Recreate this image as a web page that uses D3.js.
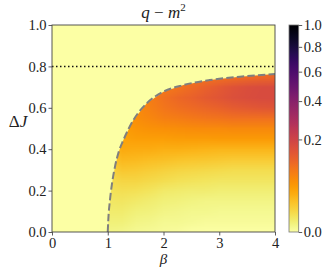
<!DOCTYPE html>
<html>
<head>
<meta charset="utf-8">
<script src="https://cdn.jsdelivr.net/npm/d3@7"></script>
<style>
  body { margin: 0; background: #fff; }
  svg text { font-family: "Liberation Serif", "Times New Roman", serif !important; fill: #222; }
</style>
</head>
<body>
<div id="chart"></div>
<script>
// grid of q - m^2 (rows: ΔJ, columns: β)
const betaCols = [1, 1.25, 1.5, 1.75, 2, 2.25, 2.5, 2.75, 3, 3.25, 3.5, 3.75, 4];
const dJRows = [0, 0.05, 0.1, 0.15, 0.2, 0.25, 0.3, 0.35, 0.4, 0.45, 0.5, 0.55, 0.6, 0.65, 0.7, 0.75, 0.8];
const qmValues = [
  [0.001, 0.0008, 0.0004, 0.0003, 0.0002, 0.0001, 0, 0, 0, 0, 0, 0, 0],
  [0.002, 0.002, 0.0012, 0.0008, 0.0005, 0.0004, 0.0003, 0.0002, 0.0002, 0.0002, 0.0002, 0.0002, 0.0002],
  [0.003, 0.003, 0.002, 0.0016, 0.0011, 0.0009, 0.0007, 0.0006, 0.0005, 0.0005, 0.0005, 0.0005, 0.0005],
  [0.004, 0.0045, 0.0035, 0.0028, 0.002, 0.0017, 0.0014, 0.0012, 0.0011, 0.001, 0.001, 0.001, 0.001],
  [0.006, 0.007, 0.0065, 0.005, 0.0038, 0.0033, 0.0029, 0.0026, 0.0023, 0.0022, 0.0022, 0.0022, 0.0022],
  [0.008, 0.011, 0.011, 0.009, 0.0075, 0.0065, 0.0058, 0.0052, 0.0048, 0.0046, 0.0045, 0.0045, 0.0045],
  [0.011, 0.017, 0.016, 0.014, 0.012, 0.011, 0.01, 0.0092, 0.0085, 0.008, 0.008, 0.008, 0.008],
  [0.015, 0.026, 0.025, 0.023, 0.021, 0.019, 0.018, 0.017, 0.016, 0.015, 0.015, 0.015, 0.015],
  [0.02, 0.036, 0.035, 0.034, 0.032, 0.031, 0.03, 0.029, 0.028, 0.028, 0.028, 0.028, 0.028],
  [0.024, 0.042, 0.045, 0.046, 0.046, 0.047, 0.047, 0.047, 0.048, 0.048, 0.048, 0.048, 0.048],
  [0.028, 0.046, 0.054, 0.058, 0.06, 0.062, 0.064, 0.065, 0.066, 0.067, 0.068, 0.068, 0.068],
  [0.032, 0.05, 0.062, 0.07, 0.077, 0.082, 0.087, 0.091, 0.095, 0.099, 0.1, 0.1, 0.1],
  [0.036, 0.054, 0.066, 0.078, 0.092, 0.102, 0.11, 0.118, 0.126, 0.135, 0.143, 0.148, 0.15],
  [0.04, 0.056, 0.066, 0.082, 0.1, 0.114, 0.126, 0.138, 0.15, 0.162, 0.17, 0.175, 0.176],
  [0.044, 0.056, 0.066, 0.082, 0.085, 0.095, 0.11, 0.125, 0.142, 0.156, 0.168, 0.174, 0.177],
  [0.044, 0.056, 0.066, 0.082, 0.085, 0.09, 0.092, 0.095, 0.098, 0.103, 0.108, 0.113, 0.118],
  [0.044, 0.056, 0.066, 0.082, 0.085, 0.09, 0.092, 0.095, 0.098, 0.1, 0.1, 0.1, 0.1],
];

// dashed boundary (β, ΔJ)
const boundaryBeta = [1.0, 1.01, 1.04, 1.08, 1.13, 1.2, 1.28, 1.46, 1.7, 2.0, 2.36, 2.83, 3.37, 4.0];
const boundaryDJ = [0, 0.06, 0.155, 0.24, 0.316, 0.39, 0.444, 0.541, 0.622, 0.678, 0.71, 0.734, 0.75, 0.763];
const dottedDJ = 0.8;

const xTicks = [0, 1, 2, 3, 4];
const yTicks = [0, 0.2, 0.4, 0.6, 0.8, 1.0];
const cbTicks = [0, 0.2, 0.4, 0.6, 0.8, 1.0];

const width = 327;
const height = 272;
const margin = {top: 25, right: 52, bottom: 40, left: 52};
const plotW = 275 - margin.left;
const plotH = 232 - margin.top;
const serif = '"Liberation Serif", "Times New Roman", serif';

const x = d3.scaleLinear().domain([0, 4]).range([margin.left, margin.left + plotW]);
const y = d3.scaleLinear().domain([0, 1]).range([margin.top + plotH, margin.top]);

// PowerNorm(gamma=0.5) with inferno_r
const norm = d3.scalePow().exponent(0.5).domain([0, 1]).range([0, 1]).clamp(true);
const color = v => d3.interpolateInferno(1 - norm(v));

const svg = d3.select('#chart').append('svg')
  .attr('width', width)
  .attr('height', height)
  .attr('font-family', serif);

const defs = svg.append('defs');

// background = zero value
svg.append('rect')
  .attr('x', x(0)).attr('y', y(1))
  .attr('width', plotW).attr('height', plotH)
  .attr('fill', color(0));

// heat map: one pixel per cell, smoothed when scaled up
const canvas = document.createElement('canvas');
canvas.width = betaCols.length;
canvas.height = dJRows.length;
const ctx = canvas.getContext('2d');
qmValues.forEach((row, j) => {
  row.forEach((v, i) => {
    ctx.fillStyle = color(v);
    ctx.fillRect(i, dJRows.length - 1 - j, 1, 1);
  });
});

const boundaryPts = boundaryBeta.map((b, i) => [b, boundaryDJ[i]]);
const clipPts = boundaryPts.concat([[4, 0]]);
defs.append('clipPath').attr('id', 'under')
  .append('path')
  .attr('d', d3.line().x(d => x(d[0])).y(d => y(d[1])).curve(d3.curveLinear)(clipPts) + 'Z');

const dB = betaCols[1] - betaCols[0];
const dJ = dJRows[1] - dJRows[0];
svg.append('g').attr('clip-path', 'url(#under)')
  .append('image')
  .attr('href', canvas.toDataURL())
  .attr('x', x(betaCols[0] - dB / 2))
  .attr('y', y(dJRows[dJRows.length - 1] + dJ / 2))
  .attr('width', x(betaCols[betaCols.length - 1] + dB / 2) - x(betaCols[0] - dB / 2))
  .attr('height', y(dJRows[0] - dJ / 2) - y(dJRows[dJRows.length - 1] + dJ / 2))
  .attr('preserveAspectRatio', 'none')
  .style('image-rendering', 'auto');

// dotted line
svg.append('line')
  .attr('x1', x(0)).attr('x2', x(4))
  .attr('y1', y(dottedDJ)).attr('y2', y(dottedDJ))
  .attr('stroke', '#111')
  .attr('stroke-width', 1.5)
  .attr('stroke-dasharray', '1.5,2.5');

// dashed boundary
svg.append('path')
  .datum(boundaryPts)
  .attr('fill', 'none')
  .attr('stroke', '#7f7f7f')
  .attr('stroke-width', 2)
  .attr('stroke-dasharray', '7.4,3.2')
  .attr('d', d3.line().x(d => x(d[0])).y(d => y(d[1])).curve(d3.curveMonotoneX));

// axes
const fmt = d3.format('.1f');
const xAxis = svg.append('g')
  .attr('transform', `translate(0,${y(0)})`)
  .call(d3.axisBottom(x).tickValues(xTicks).tickFormat(d3.format('d')).tickSize(3.5).tickPadding(2));
const yAxis = svg.append('g')
  .attr('transform', `translate(${x(0)},0)`)
  .call(d3.axisLeft(y).tickValues(yTicks).tickFormat(fmt).tickSize(3.5).tickPadding(2));
[xAxis, yAxis].forEach(g => {
  g.attr('font-family', serif).attr('font-size', 14.5);
  g.select('.domain').remove();
  g.selectAll('line').attr('stroke', '#333').attr('stroke-width', 0.8);
  g.selectAll('text').attr('fill', '#222');
});

svg.append('rect')
  .attr('x', x(0)).attr('y', y(1))
  .attr('width', plotW).attr('height', plotH)
  .attr('fill', 'none')
  .attr('stroke', '#444')
  .attr('stroke-width', 0.9);

// titles
svg.append('text')
  .attr('x', x(2)).attr('y', 18)
  .attr('text-anchor', 'middle')
  .attr('font-size', 17)
  .html('<tspan font-style="italic">q</tspan> − <tspan font-style="italic">m</tspan><tspan font-size="11" dy="-7">2</tspan>');

svg.append('text')
  .attr('x', x(2)).attr('y', 264)
  .attr('text-anchor', 'middle')
  .attr('font-size', 15)
  .attr('font-style', 'italic')
  .attr('fill', '#555')
  .text('β');

svg.append('text')
  .attr('x', 18).attr('y', 127)
  .attr('text-anchor', 'middle')
  .attr('font-size', 17)
  .html('Δ<tspan font-style="italic">J</tspan>');

// colorbar
const cbX = 289;
const cbW = 9.7;
const cb = d3.scalePow().exponent(0.5).domain([0, 1]).range([y(0), y(1)]);
const grad = defs.append('linearGradient').attr('id', 'cbgrad')
  .attr('x1', 0).attr('y1', 1).attr('x2', 0).attr('y2', 0);
d3.range(0, 1.0001, 0.02).forEach(t => {
  grad.append('stop').attr('offset', t).attr('stop-color', d3.interpolateInferno(1 - t));
});
svg.append('rect')
  .attr('x', cbX).attr('y', y(1))
  .attr('width', cbW).attr('height', plotH)
  .attr('fill', 'url(#cbgrad)')
  .attr('stroke', '#777')
  .attr('stroke-width', 0.8);

const cbAxis = svg.append('g')
  .attr('transform', `translate(${cbX + cbW},0)`)
  .call(d3.axisRight(cb).tickValues(cbTicks).tickFormat(fmt).tickSize(3.5).tickPadding(1.5));
cbAxis.attr('font-family', serif).attr('font-size', 14.5);
cbAxis.select('.domain').remove();
cbAxis.selectAll('line').attr('stroke', '#333').attr('stroke-width', 0.8);
cbAxis.selectAll('text').attr('fill', '#222');
</script>
</body>
</html>
